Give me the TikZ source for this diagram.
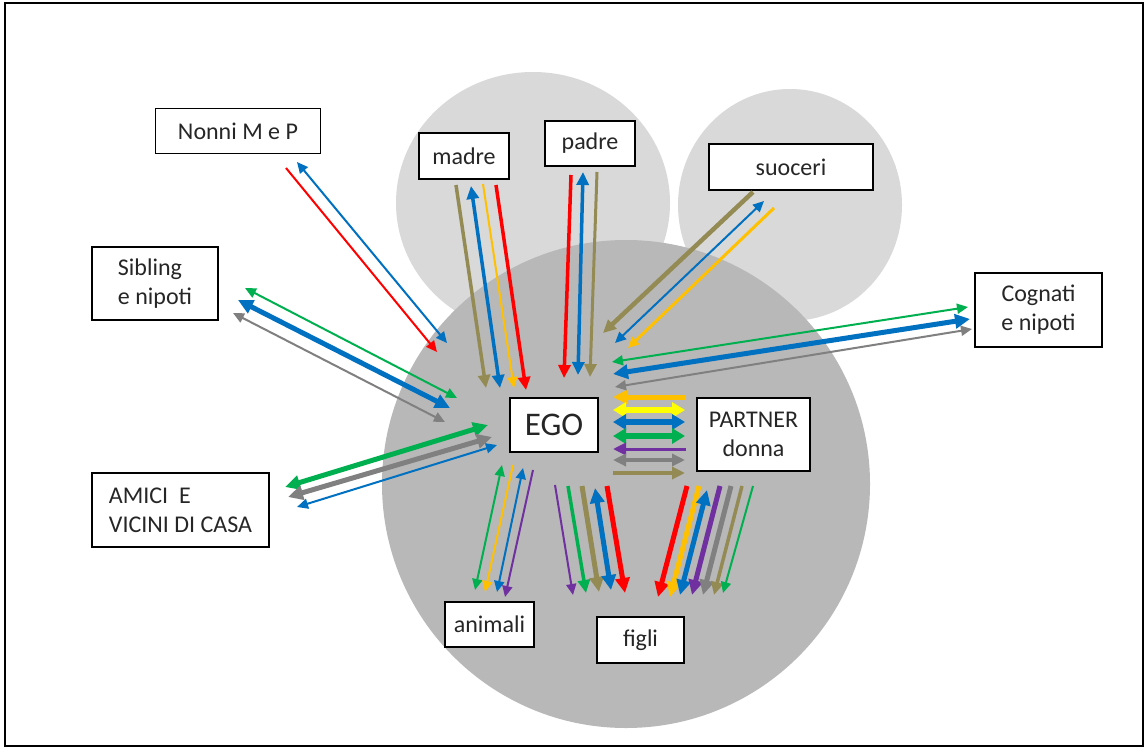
\documentclass[tikz,border=0pt]{standalone}
\usepackage{fontspec}
\setmainfont{Carlito}
\usetikzlibrary{arrows.meta}
\definecolor{colive}{HTML}{948A54}
\definecolor{cblue}{HTML}{0070C0}
\definecolor{cred}{HTML}{FF0000}
\definecolor{corange}{HTML}{FFC000}
\definecolor{cyellow}{HTML}{FFFF00}
\definecolor{cgreen}{HTML}{00B050}
\definecolor{cpurple}{HTML}{7030A0}
\definecolor{cgray}{HTML}{808080}
\definecolor{clight}{HTML}{D9D9D9}
\definecolor{cbig}{HTML}{B8B8B8}
\newcommand\arw[4]{\coordinate (#2a) at #3; \coordinate (#2b) at #4; \draw[#1] (#2a) -- (#2b);}
\tikzset{
  box/.style={draw=black, line width=1.8pt, fill=white, inner sep=0pt, align=center,
    font=\fontsize{24}{29}\selectfont, text=black!85},
  tthin/.style={line width=2pt, >={Triangle[length=11pt,width=10pt]}},
  tmid/.style={line width=3.5pt, >={Triangle[length=13pt,width=12pt]}},
  tthick/.style={line width=5pt, >={Triangle[length=15pt,width=14pt]}},
  txthick/.style={line width=6pt, >={Triangle[length=13pt,width=15pt]}},
}
\begin{document}
\begin{tikzpicture}[x=1pt,y=-1pt]
\useasboundingbox (0,0) rectangle (1148,749);
\fill[white] (0,0) rectangle (1148,749);
\draw[line width=2pt] (5,3) rectangle (1143,746);
% circles
\fill[clight] (533,203) ellipse [x radius=137, y radius=131];
\fill[clight] (790,205) ellipse [x radius=112, y radius=116];
\fill[cbig] (626,484) circle [radius=244];
% boxes
\node[box, minimum width=165pt, minimum height=45pt] (nonni) at (238,131) {Nonni M e P};
\node[box, minimum width=90pt, minimum height=46pt] (madre) at (464,156) {madre};
\node[box, minimum width=90pt, minimum height=45pt] (padre) at (590,143.5) {padre};
\node[box, minimum width=164pt, minimum height=46pt] (suoceri) at (791,167) {suoceri};
\node[box, minimum width=126pt, minimum height=73pt, align=left] (sibling) at (155,283.5) {Sibling\\e nipoti};
\node[box, minimum width=127pt, minimum height=74pt] (cognati) at (1038.5,310) {Cognati\\e nipoti};
\node[box, minimum width=88pt, minimum height=54pt, font=\fontsize{33}{40}\selectfont] (ego) at (554,425) {EGO};
\node[box, minimum width=113pt, minimum height=73pt] (partner) at (753.5,434.5) {PARTNER\\donna};
\node[box, minimum width=177pt, minimum height=74pt, align=left] (amici) at (180.5,510) {AMICI\ \ E\\VICINI DI CASA};
\node[box, minimum width=89pt, minimum height=45pt] (animali) at (489.5,624.5) {animali};
\node[box, minimum width=87pt, minimum height=46pt] (figli) at (640.5,640) {figli};
% madre
\arw{tmid,colive,->}{m1}{(456,185)}{(486,388)}
\arw{tmid,cblue,<->}{m2}{(471,186)}{(500,388)}
\arw{tthin,corange,->}{m3}{(483,184)}{(514,388)}
\arw{tmid,cred,->}{m4}{(496,185)}{(526,390)}
% padre
\arw{tmid,cred,->}{p1}{(571,175)}{(564,378)}
\arw{tmid,cblue,<->}{p2}{(583,172)}{(578,375)}
\arw{tmid,line width=3pt,colive,->}{p3}{(597,172)}{(590,377)}
% nonni
\arw{tthin,cred,->}{n1}{(286,168)}{(437,352)}
\arw{tthin,cblue,<->}{n2}{(297,162)}{(447,343)}
% sibling
\arw{tthin,cgreen,<->}{s1}{(245,288)}{(457,398)}
\arw{tthick,cblue,<->}{s2}{(238,300)}{(450,408)}
\arw{tthin,cgray,<->}{s3}{(233,313)}{(445,422)}
% amici
\arw{tthick,cgreen,<->}{f1}{(285,487)}{(488,425)}
\arw{tthick,cgray,<->}{f2}{(288,497)}{(492,437)}
\arw{tthin,cblue,<->}{f3}{(297,507)}{(497,445)}
% animali
\arw{tthin,cgreen,<->}{an1}{(502,465)}{(475,590)}
\arw{tthin,corange,->}{an2}{(513,465)}{(485,592)}
\arw{tthin,cblue,<->}{an3}{(523,468)}{(497,592)}
\arw{tthin,cpurple,->}{an4}{(533,470)}{(505,597)}
% figli left
\arw{tthin,cpurple,->}{fl1}{(555,485)}{(573,595)}
\arw{tmid,cgreen,->}{fl2}{(568,486)}{(586,593)}
\arw{tthick,colive,->}{fl3}{(582,486)}{(599,592)}
\arw{tthick,cblue,<->}{fl4}{(595,488)}{(611,590)}
\arw{tthick,cred,->}{fl5}{(607,486)}{(625,593)}
% figli right
\arw{tthick,cred,->}{fr1}{(687,486)}{(658,597)}
\arw{tthick,corange,->}{fr2}{(699,486)}{(670,597)}
\arw{tthick,cblue,<->}{fr3}{(707,490)}{(680,595)}
\arw{tthick,cpurple,->}{fr4}{(720,486)}{(692,595)}
\arw{tthick,cgray,->}{fr5}{(731,486)}{(703,595)}
\arw{tmid,colive,->}{fr6}{(742,486)}{(714,595)}
\arw{tthin,cgreen,->}{fr7}{(753,486)}{(723,593)}
% partner
\arw{tthick,corange,->}{pa1}{(686,397)}{(613,397)}
\arw{txthick,cyellow,<->}{pa2}{(613,410)}{(685,410)}
\arw{txthick,cblue,<->}{pa3}{(613,422)}{(685,422)}
\arw{txthick,cgreen,<->}{pa4}{(613,436)}{(685,436)}
\arw{tmid,line width=3pt,cpurple,->}{pa5}{(686,449)}{(613,449)}
\arw{tmid,line width=4pt,cgray,<->}{pa6}{(613,460)}{(685,460)}
\arw{tmid,line width=4pt,colive,->}{pa7}{(613,473)}{(685,473)}
% suoceri
\arw{tmid,line width=4.5pt,colive,->}{su1}{(753,192)}{(603,333)}
\arw{tthin,cblue,<->}{su2}{(764,201)}{(615,343)}
\arw{tthin,line width=3pt,corange,->}{su3}{(774,208)}{(628,348)}
% cognati
\arw{tthin,cgreen,<->}{c1}{(612,362)}{(968,307)}
\arw{tthick,cblue,<->}{c2}{(613,374)}{(970,319)}
\arw{tthin,cgray,<->}{c3}{(615,387)}{(972,329)}
\end{tikzpicture}
\end{document}
